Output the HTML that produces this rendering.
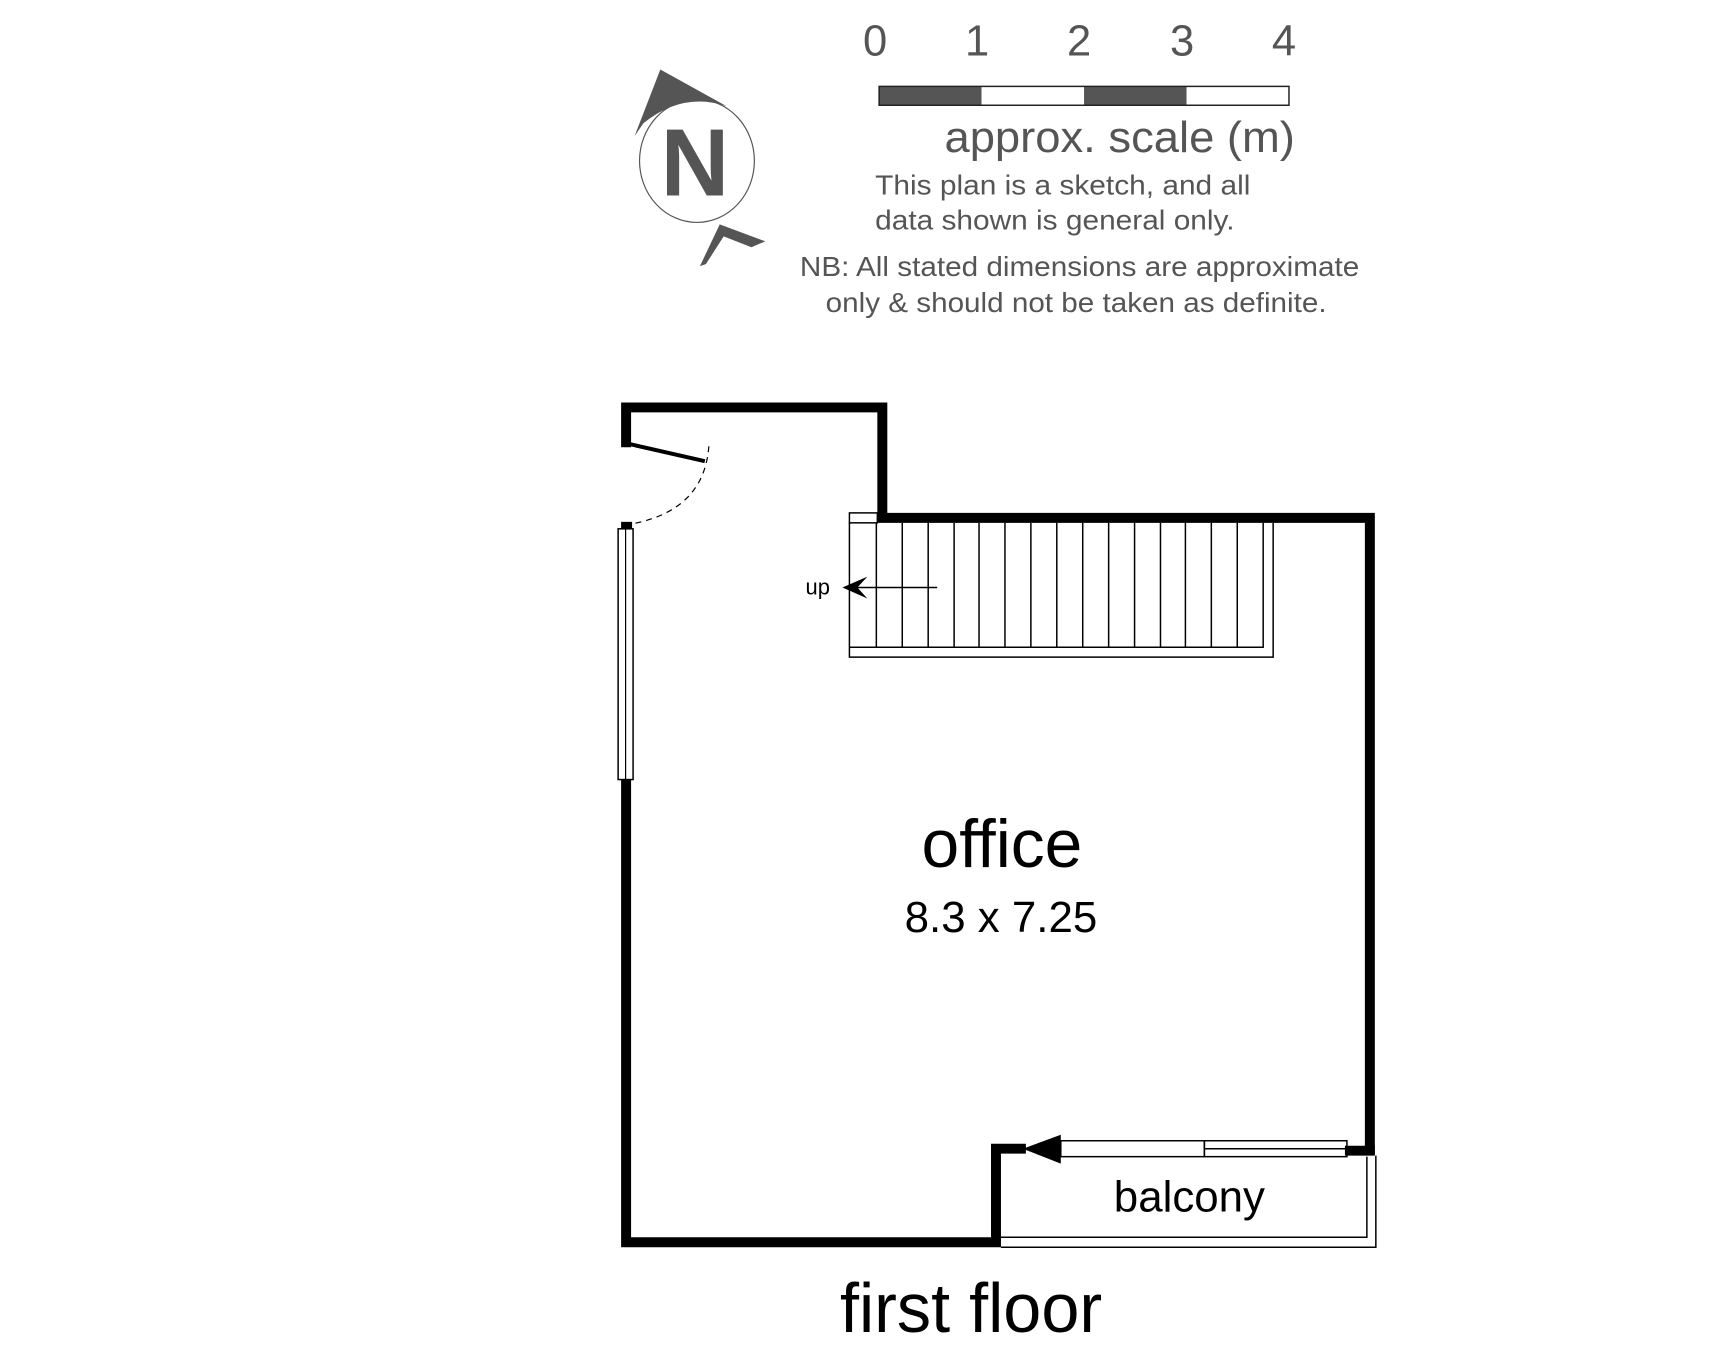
<!DOCTYPE html>
<html><head><meta charset="utf-8"><style>html,body{margin:0;padding:0;background:#fff}svg{display:block}</style></head>
<body>
<svg width="1724" height="1365" viewBox="0 0 1724 1365" xmlns="http://www.w3.org/2000/svg" font-family="Liberation Sans, sans-serif">
<g transform="scale(0.99,0.993)">
<!-- compass -->
<ellipse cx="704" cy="162" rx="58" ry="62" fill="none" stroke="#555" stroke-width="1.2"/>
<text x="702" y="197" font-size="96" font-weight="bold" fill="#555" text-anchor="middle">N</text>
<path d="M641,137 L667,70 L734,107 Q690,92 650,124 Z" fill="#555"/>
<path d="M707,268 L727,226 L773,243 L759,249 L731,238 L713,266 Z" fill="#555"/>
<!-- scale -->
<g fill="#555" font-size="44" text-anchor="middle">
<text x="884" y="56">0</text><text x="987" y="56">1</text><text x="1090" y="56">2</text><text x="1194" y="56">3</text><text x="1297" y="56">4</text>
</g>
<rect x="888" y="87" width="103.5" height="19" fill="#555"/>
<rect x="991.5" y="87" width="103.5" height="19" fill="#fff"/>
<rect x="1095" y="87" width="103.5" height="19" fill="#555"/>
<rect x="888" y="87" width="414" height="19" fill="none" stroke="#222" stroke-width="1.5"/>
<g fill="#555">
<text x="954" y="153" font-size="44" textLength="354" lengthAdjust="spacingAndGlyphs">approx. scale (m)</text>
<text x="884" y="196" font-size="28" textLength="379" lengthAdjust="spacingAndGlyphs">This plan is a sketch, and all</text>
<text x="884" y="231" font-size="28" textLength="363" lengthAdjust="spacingAndGlyphs">data shown is general only.</text>
<text x="808" y="278" font-size="28" textLength="565" lengthAdjust="spacingAndGlyphs">NB: All stated dimensions are approximate</text>
<text x="834" y="314" font-size="28" textLength="506" lengthAdjust="spacingAndGlyphs">only &amp; should not be taken as definite.</text>
</g>
</g>
<g transform="matrix(0.997,0,0,0.995,-6,-4.5)">
<!-- walls -->
<g fill="none" stroke="#000" stroke-width="10" stroke-linecap="square">
<polyline points="634,449 634,414 891,414 891,525 1380,525 1380,1160"/>
<polyline points="634,789 634,1253 1005,1253 1005,1159 1030,1159"/>
<line x1="1360" y1="1161" x2="1380" y2="1161"/>
</g>
<rect x="629" y="529" width="11" height="7" fill="#000"/>
<rect x="626" y="536" width="15" height="252" fill="#fff" stroke="#000" stroke-width="1.5"/>
<line x1="633.5" y1="536" x2="633.5" y2="788" stroke="#000" stroke-width="1.2"/>
<line x1="634" y1="450" x2="713" y2="468" stroke="#000" stroke-width="4"/>
<path d="M717,453 Q712,520 634,532" fill="none" stroke="#000" stroke-width="1.2" stroke-dasharray="6,5"/>
<g fill="none" stroke="#000" stroke-width="1.5">
<rect x="858" y="520" width="28" height="10"/>
<polyline points="858,530 858,665 1283,665 1283,530"/>
<polyline points="858,655 1273,655 1273,530"/>
<path d="M885,530V655M911,530V655M937,530V655M963,530V655M988,530V655M1014,530V655M1040,530V655M1066,530V655M1092,530V655M1118,530V655M1144,530V655M1170,530V655M1195,530V655M1221,530V655M1247,530V655"/>
<line x1="858" y1="595" x2="946" y2="595"/>
</g>
<path d="M851,595 L876,584 L866,595 L876,606 Z" fill="#000"/>
<text x="814" y="602" font-size="22" fill="#000">up</text>
<g fill="none" stroke="#000" stroke-width="1.5">
<rect x="1070" y="1151" width="144" height="16"/>
<rect x="1214" y="1151" width="143" height="16"/>
<line x1="1214" y1="1159" x2="1357" y2="1159"/>
</g>
<path d="M1032,1159 L1070,1145 L1070,1174 Z" fill="#000"/>
<g fill="none" stroke="#000" stroke-width="1.5">
<polyline points="1010,1248 1377,1248 1377,1167"/>
<polyline points="1010,1258 1386,1258 1386,1166"/>
</g>
<text x="1011" y="876" font-size="68" text-anchor="middle" fill="#000">office</text>
<text x="1010" y="941" font-size="44" text-anchor="middle" fill="#000">8.3 x 7.25</text>
<text x="1199" y="1222" font-size="44" text-anchor="middle" fill="#000">balcony</text>
<text x="980" y="1343" font-size="70" text-anchor="middle" fill="#000" textLength="263" lengthAdjust="spacingAndGlyphs">first floor</text>
</g>
</svg>
</body></html>
